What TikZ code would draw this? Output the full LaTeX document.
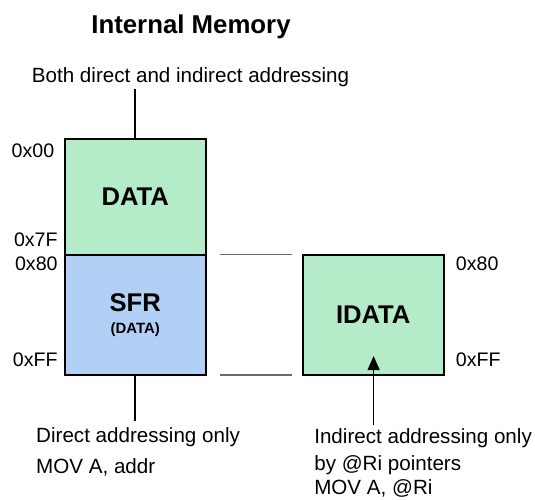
\documentclass[tikz,border=0pt]{standalone}
\usepackage{fontspec}
\setmainfont{Liberation Sans}
\usetikzlibrary{arrows.meta, positioning}
\definecolor{memgreen}{RGB}{180, 235, 200}
\definecolor{memblue}{RGB}{178, 208, 246}
\definecolor{guidegray}{RGB}{105, 105, 105}
\tikzset{
  membox/.style={
    draw, rectangle, line width=1pt, outer sep=0pt,
    minimum width=70.5pt, align=center,
    font=\fontsize{12.8}{14}\selectfont\bfseries
  },
  note/.style={
    inner sep=0pt, font=\fontsize{10.3}{12}\selectfont
  },
  hexlabel/.style={
    inner sep=0pt, font=\fontsize{9.8}{12}\selectfont
  },
  stem/.style={
    line width=1pt
  },
  guide/.style={
    draw=guidegray, line width=0.7pt, shorten <=7.2pt, shorten >=5.5pt
  },
  ptrarrow/.style={
    -{Triangle[length=7pt, width=6pt]}, line width=0.6pt
  }
}
\begin{document}
\begin{tikzpicture}[x=0.5pt, y=-0.5pt]
  \useasboundingbox (0,0) rectangle (535,499);
  \node[inner sep=0pt, anchor=base, font=\fontsize{12.9}{14}\selectfont\bfseries] (heading) at (191,33) {Internal Memory};
  \node[note, anchor=base] (bothnote) at (190.5,82) {Both direct and indirect addressing};

  % memory blocks
  \node[membox, fill=memgreen, minimum height=57.7pt] (datablk) at (135.25,196.9) {DATA};
  \node[membox, fill=memblue, minimum height=60.2pt, below=0pt of datablk] (sfrblk)
    {SFR\\[-3pt]{\fontsize{7.45}{8}\selectfont (DATA)}};
  \node[membox, fill=memgreen, minimum height=60.2pt, right=48.5pt of sfrblk] (idatablk) {IDATA};

  % addresses
  \node[hexlabel, anchor=base east] (lo00) at (54.6,157.6) {0x00};
  \node[hexlabel, anchor=base east] (lo7f) at (58,246.5) {0x7F};
  \node[hexlabel, anchor=base east] (lo80) at (58,270) {0x80};
  \node[hexlabel, anchor=base east] (loff) at (58,366.5) {0xFF};
  \node[hexlabel, anchor=base west] (hi80) at (455.5,270) {0x80};
  \node[hexlabel, anchor=base west] (hiff) at (455.5,366.5) {0xFF};

  \draw[guide] (sfrblk.north east) -- (idatablk.north west);
  \draw[guide] (sfrblk.south east) -- (idatablk.south west);

  \coordinate (stemtop) at (135.25,89.4);
  \coordinate (stembot) at (135.25,421);
  \coordinate (ptrfoot) at (373.6,424.5);
  \coordinate (ptrtip) at (373.6,356);
  \draw[stem] (stemtop) -- (datablk.north);
  \draw[stem] (sfrblk.south) -- (stembot);
  \draw[ptrarrow] (ptrfoot) -- (ptrtip);

  % access notes
  \node[note, anchor=base west] (dirnote) at (35.8,442) {Direct addressing only};
  \node[note, anchor=base west] (dirmov) at (35.8,473) {MOV A, addr};
  \node[note, anchor=base west] (indnote) at (313.9,443) {Indirect addressing only};
  \node[note, anchor=base west] (indptr) at (313.9,470.5) {by @Ri pointers};
  \node[note, anchor=base west] (indmov) at (313.9,494.5) {MOV A, @Ri};
\end{tikzpicture}
\end{document}
